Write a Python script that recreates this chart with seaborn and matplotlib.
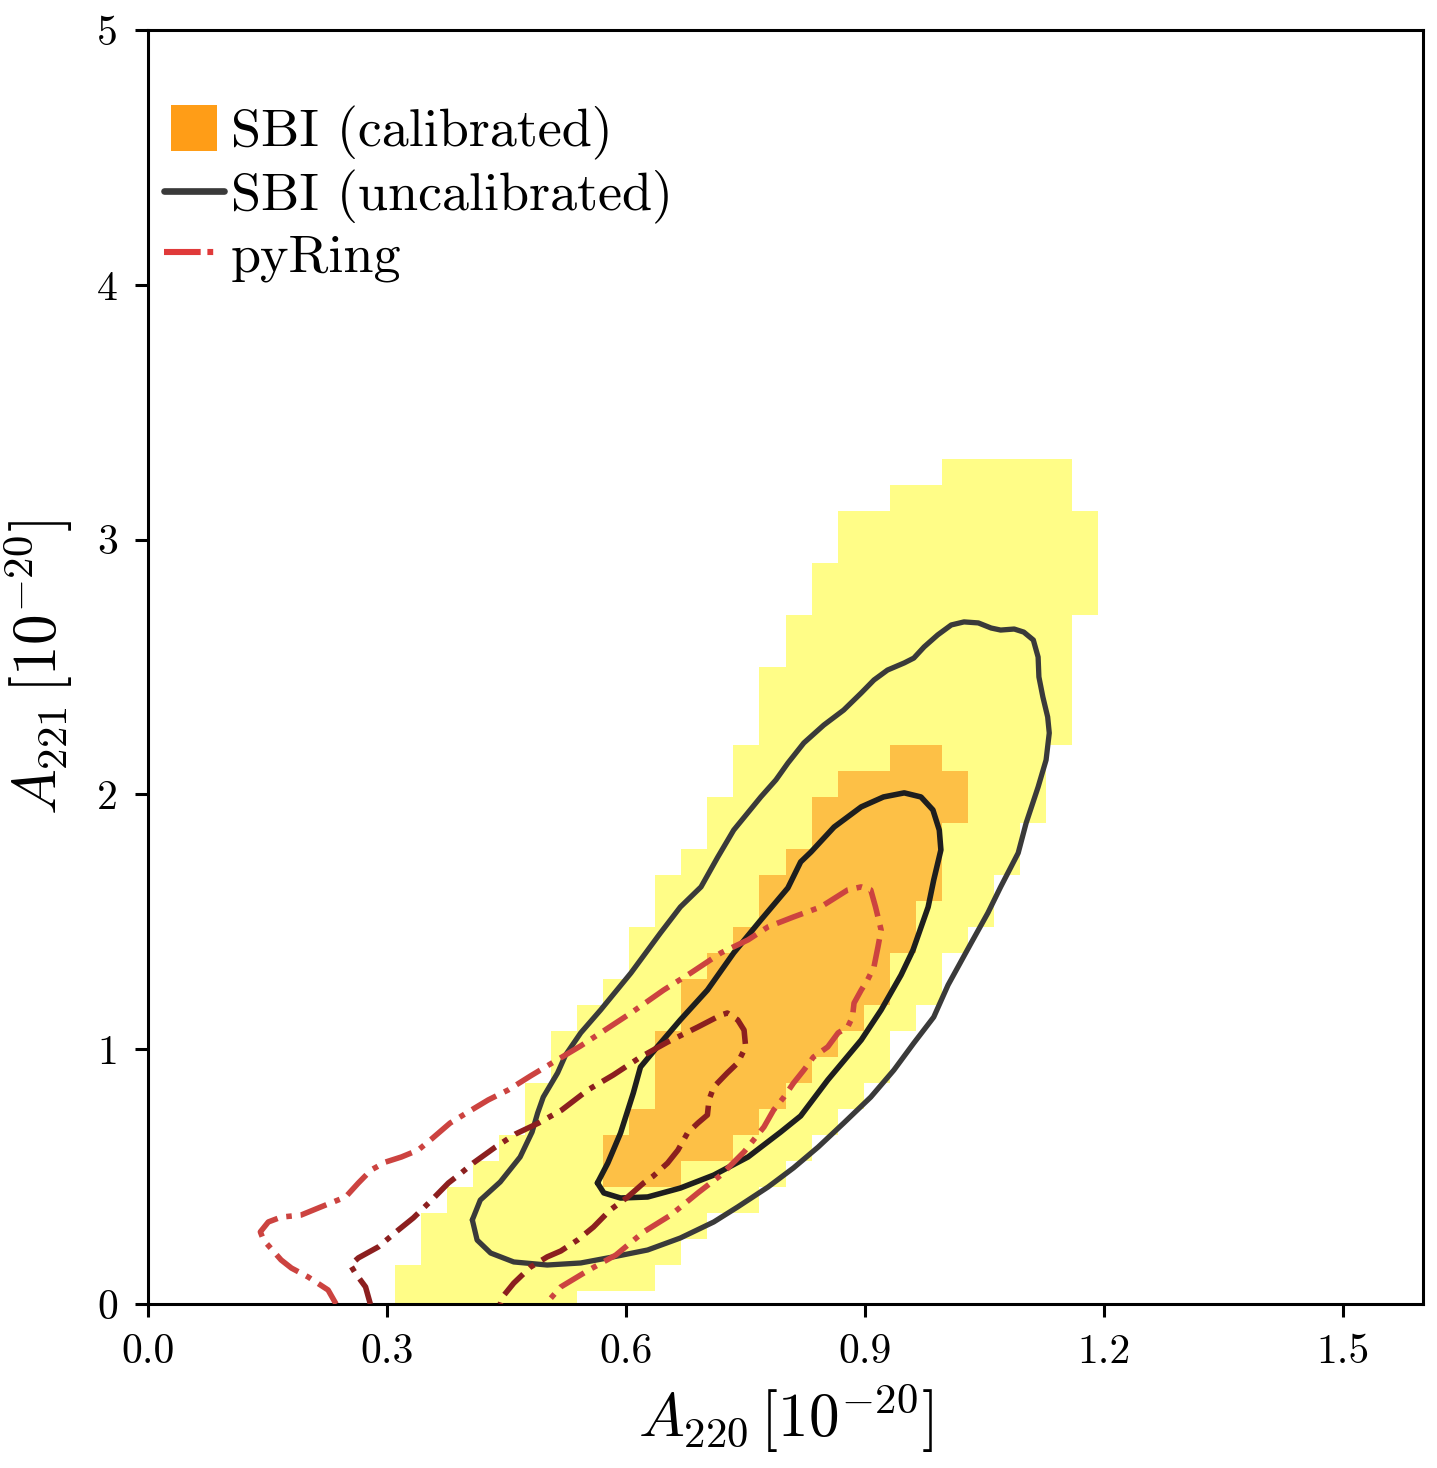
import numpy as np
import matplotlib
matplotlib.use("Agg")
import matplotlib.pyplot as plt
from matplotlib.colors import ListedColormap
from matplotlib.lines import Line2D
import seaborn as sns

# ---------------- data ----------------
# histogram grid centres (SBI calibrated credible regions)
x_centers = np.linspace(0.0, 1.6, 50)
y_centers = np.linspace(0.0, 5.0, 50)

# outer (yellow) credible region: column index -> row range
yellow_cols = list(range(10, 37))
yellow_lo = [0, 0, 0, 0, 0, 0, 0, 1, 1, 1, 2, 3, 4, 4, 5, 6, 7, 8, 9, 11, 12, 14, 15, 17, 19, 22, 27]
yellow_hi = [1, 3, 4, 5, 6, 8, 10, 11, 12, 14, 16, 17, 19, 21, 24, 26, 28, 30, 30, 31, 31, 32, 32, 32, 32, 32, 30]
# inner (orange) credible region
orange_cols = list(range(18, 32))
orange_lo = [5, 5, 5, 6, 6, 7, 8, 9, 10, 11, 12, 14, 16, 19]
orange_hi = [6, 7, 10, 12, 13, 14, 16, 17, 19, 20, 20, 21, 21, 20]

# SBI (uncalibrated) contours
sbi_outer_x = [0.407, 0.413, 0.430, 0.459, 0.501, 0.543, 0.584, 0.627, 0.668, 0.710, 0.740, 0.778, 0.810, 0.841,
               0.873, 0.907, 0.936, 0.961, 0.986, 1.004, 1.033, 1.054, 1.070, 1.092, 1.102, 1.117, 1.127, 1.131,
               1.129, 1.123, 1.118, 1.117, 1.111, 1.099, 1.087, 1.070, 1.058, 1.042, 1.024, 1.008, 0.991, 0.974,
               0.961, 0.949, 0.928, 0.911, 0.895, 0.873, 0.848, 0.823, 0.803, 0.788, 0.769, 0.735, 0.715, 0.694,
               0.668, 0.643, 0.606, 0.568, 0.543, 0.524, 0.514, 0.496, 0.489, 0.482, 0.467, 0.442, 0.417, 0.407]
sbi_outer_y = [0.330, 0.251, 0.200, 0.165, 0.153, 0.161, 0.185, 0.212, 0.259, 0.322, 0.381, 0.459, 0.534, 0.616,
               0.710, 0.812, 0.918, 1.024, 1.126, 1.252, 1.417, 1.535, 1.637, 1.770, 1.888, 2.029, 2.135, 2.241,
               2.304, 2.382, 2.461, 2.539, 2.606, 2.637, 2.649, 2.645, 2.653, 2.673, 2.677, 2.665, 2.626, 2.579,
               2.535, 2.516, 2.488, 2.449, 2.398, 2.331, 2.272, 2.202, 2.123, 2.057, 1.990, 1.860, 1.754, 1.637,
               1.558, 1.456, 1.299, 1.154, 1.064, 0.977, 0.907, 0.812, 0.750, 0.675, 0.577, 0.479, 0.408, 0.330]
sbi_inner_x = [0.564, 0.572, 0.593, 0.627, 0.668, 0.710, 0.753, 0.794, 0.819, 0.853, 0.895, 0.920, 0.945, 0.960,
               0.979, 0.986, 0.995, 0.993, 0.985, 0.970, 0.949, 0.923, 0.895, 0.861, 0.832, 0.819, 0.803, 0.769,
               0.735, 0.702, 0.668, 0.639, 0.618, 0.609, 0.593, 0.577, 0.564]
sbi_inner_y = [0.475, 0.436, 0.416, 0.420, 0.455, 0.506, 0.577, 0.675, 0.738, 0.879, 1.036, 1.154, 1.291, 1.389,
               1.558, 1.664, 1.782, 1.860, 1.939, 1.990, 2.006, 1.990, 1.951, 1.872, 1.774, 1.735, 1.633, 1.507,
               1.378, 1.232, 1.115, 1.009, 0.930, 0.828, 0.671, 0.553, 0.475]

# pyRing contours
pyring_outer_x = [0.236, 0.226, 0.201, 0.180, 0.167, 0.145, 0.141, 0.151, 0.167, 0.192, 0.217, 0.248, 0.264,
                  0.280, 0.298, 0.318, 0.339, 0.356, 0.379, 0.402, 0.427, 0.452, 0.480, 0.505, 0.528, 0.543,
                  0.568, 0.606, 0.647, 0.681, 0.719, 0.753, 0.778, 0.810, 0.844, 0.878, 0.895, 0.907, 0.913,
                  0.920, 0.916, 0.911, 0.903, 0.895, 0.886, 0.884, 0.878, 0.866, 0.853, 0.835, 0.823, 0.810,
                  0.798, 0.785, 0.773, 0.760, 0.748, 0.719, 0.690, 0.656, 0.622, 0.587, 0.553, 0.518, 0.499]
pyring_outer_y = [0.000, 0.055, 0.106, 0.141, 0.173, 0.251, 0.283, 0.322, 0.341, 0.349, 0.381, 0.420, 0.475,
                  0.526, 0.557, 0.577, 0.604, 0.648, 0.710, 0.754, 0.801, 0.840, 0.895, 0.942, 0.985, 1.013,
                  1.064, 1.142, 1.232, 1.299, 1.378, 1.429, 1.480, 1.519, 1.558, 1.625, 1.637, 1.625, 1.558,
                  1.468, 1.401, 1.323, 1.272, 1.232, 1.181, 1.126, 1.087, 1.064, 1.009, 0.969, 0.918, 0.867,
                  0.812, 0.761, 0.695, 0.644, 0.597, 0.506, 0.436, 0.349, 0.283, 0.192, 0.133, 0.067, 0.000]
pyring_inner_x = [0.279, 0.273, 0.260, 0.254, 0.264, 0.289, 0.314, 0.333, 0.356, 0.377, 0.393, 0.408, 0.436,
                  0.461, 0.490, 0.519, 0.552, 0.584, 0.618, 0.652, 0.690, 0.719, 0.727, 0.740, 0.748, 0.750,
                  0.740, 0.727, 0.710, 0.704, 0.702, 0.690, 0.677, 0.665, 0.652, 0.634, 0.622, 0.602, 0.580,
                  0.559, 0.539, 0.518, 0.501, 0.480, 0.459, 0.445, 0.442]
pyring_inner_y = [0.000, 0.067, 0.122, 0.153, 0.181, 0.224, 0.290, 0.338, 0.408, 0.475, 0.514, 0.553, 0.616,
                  0.667, 0.710, 0.761, 0.840, 0.899, 0.969, 1.028, 1.087, 1.134, 1.142, 1.115, 1.075, 1.009,
                  0.946, 0.907, 0.852, 0.801, 0.742, 0.710, 0.671, 0.604, 0.553, 0.502, 0.475, 0.420, 0.369,
                  0.302, 0.251, 0.208, 0.185, 0.145, 0.082, 0.028, 0.000]

x_ticks = [0.0, 0.3, 0.6, 0.9, 1.2, 1.5]
x_ticklabels = ["0.0", "0.3", "0.6", "0.9", "1.2", "1.5"]
y_ticks = [0, 1, 2, 3, 4, 5]
y_ticklabels = ["0", "1", "2", "3", "4", "5"]
legend_labels = ["SBI (calibrated)", "SBI (uncalibrated)", "pyRing"]

# ---------------- style ----------------
sns.set_theme(style="ticks")
plt.rcParams["font.family"] = "serif"
plt.rcParams["font.serif"] = ["cmr10"]
plt.rcParams["mathtext.fontset"] = "cm"
plt.rcParams["axes.formatter.use_mathtext"] = True

YELLOW = "#FFFD87"
ORANGE = "#FDC046"
LEG_ORANGE = "#FF9D17"
BLACK_OUT = "#3A3A3A"
BLACK_IN = "#1E1E1E"
RED_OUT = "#CC4340"
RED_IN = "#8C1F1F"
LEG_RED = "#E03A3A"

fig = plt.figure(figsize=(1437 / 200, 1468 / 200), dpi=200)
ax = fig.add_axes([148 / 1437, 1 - 1304 / 1468, (1423 - 148) / 1437, (1304 - 30) / 1468])

# histogram levels
Z = np.zeros((len(y_centers), len(x_centers)))
for i, lo, hi in zip(yellow_cols, yellow_lo, yellow_hi):
    Z[lo:hi + 1, i] = 1
for i, lo, hi in zip(orange_cols, orange_lo, orange_hi):
    Z[lo:hi + 1, i] = 2
Zm = np.ma.masked_equal(Z, 0)
ax.pcolormesh(x_centers, y_centers, Zm, shading="nearest",
              cmap=ListedColormap([YELLOW, ORANGE]), vmin=0.5, vmax=2.5,
              edgecolors="none", antialiased=False, zorder=1)

dashdot = (0, (5.0, 1.6, 1.0, 1.6))
line_kw = dict(sort=False, estimator=None, ax=ax, solid_joinstyle="round", solid_capstyle="round")
sns.lineplot(x=sbi_outer_x, y=sbi_outer_y, color=BLACK_OUT, lw=1.9, zorder=3, **line_kw)
sns.lineplot(x=sbi_inner_x, y=sbi_inner_y, color=BLACK_IN, lw=2.0, zorder=3, **line_kw)
sns.lineplot(x=pyring_outer_x, y=pyring_outer_y, color=RED_OUT, lw=2.0,
             linestyle=dashdot, zorder=4, **line_kw)
sns.lineplot(x=pyring_inner_x, y=pyring_inner_y, color=RED_IN, lw=2.0,
             linestyle=dashdot, zorder=4, **line_kw)

ax.set_xlim(0, 1.6)
ax.set_ylim(0, 5)
ax.set_xticks(x_ticks)
ax.set_xticklabels(x_ticklabels)
ax.set_yticks(y_ticks)
ax.set_yticklabels(y_ticklabels)
ax.tick_params(axis="both", which="major", direction="out", length=4.8, width=1.1,
               color="black", labelsize=15, pad=6, labelcolor="black")
for sp in ax.spines.values():
    sp.set_visible(True)
    sp.set_color("black")
    sp.set_linewidth(1.1)
ax.set_facecolor("white")

ax.set_xlabel(r"$A_{220}\,[10^{-20}]$", fontsize=22, labelpad=4, color="black")
ax.set_ylabel(r"$A_{221}\,[10^{-20}]$", fontsize=22, labelpad=8, color="black")

handles = [
    Line2D([], [], marker="s", linestyle="none", color=LEG_ORANGE, markersize=16.3, markeredgewidth=0),
    Line2D([], [], color=BLACK_OUT, lw=2.4),
    Line2D([], [], color=LEG_RED, lw=2.2, linestyle=(0, (6.0, 1.1, 0.95, 5))),
]
leg = ax.legend(handles, legend_labels, loc="upper left", bbox_to_anchor=(0.0, 0.953),
                frameon=False, fontsize=19.5, handlelength=1.1, handletextpad=0.13,
                labelspacing=0.175, borderaxespad=0.0, borderpad=0.3)
for t in leg.get_texts():
    t.set_color("black")

fig.savefig("out.png", dpi=200)
